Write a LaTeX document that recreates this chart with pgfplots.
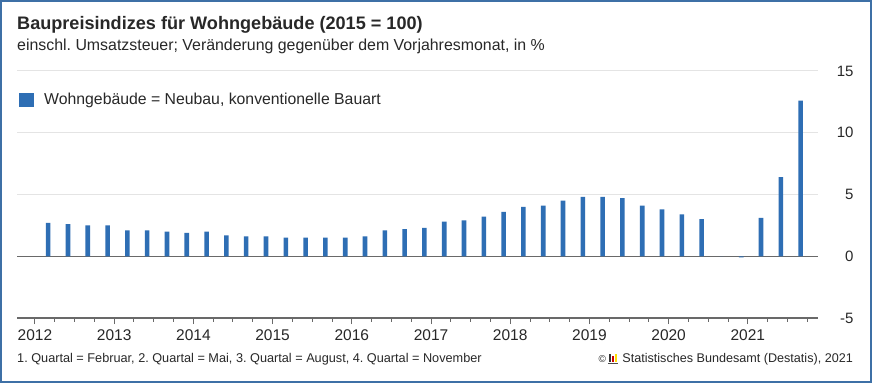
\documentclass[border=0pt]{standalone}
\usepackage{pgfplots}
\pgfplotsset{compat=1.18}
\usepackage{fontspec}
\setmainfont{Liberation Sans}
\frenchspacing
\definecolor{barblue}{RGB}{46,110,180}
\definecolor{frameblue}{RGB}{62,112,166}
\definecolor{txt}{RGB}{40,40,40}
\definecolor{axgray}{RGB}{105,105,105}
\definecolor{gridgray}{RGB}{228,228,228}
\pgfplotstableread{
x y
2012.1667 2.7
2012.4167 2.6
2012.6667 2.5
2012.9167 2.5
2013.1667 2.1
2013.4167 2.1
2013.6667 2.0
2013.9167 1.9
2014.1667 2.0
2014.4167 1.7
2014.6667 1.6
2014.9167 1.6
2015.1667 1.5
2015.4167 1.5
2015.6667 1.5
2015.9167 1.5
2016.1667 1.6
2016.4167 2.1
2016.6667 2.2
2016.9167 2.3
2017.1667 2.8
2017.4167 2.9
2017.6667 3.2
2017.9167 3.6
2018.1667 4.0
2018.4167 4.1
2018.6667 4.5
2018.9167 4.8
2019.1667 4.8
2019.4167 4.7
2019.6667 4.1
2019.9167 3.8
2020.1667 3.4
2020.4167 3.0
2020.6667 0.0
2020.9167 -0.1
2021.1667 3.1
2021.4167 6.4
2021.6667 12.6
}\datatable
\begin{document}
\begin{tikzpicture}[x=1pt,y=1pt]
\path[use as bounding box] (0,0) rectangle (872,383);
\fill[white] (0,0) rectangle (872,383);
\begin{axis}[
  at={(17pt,65pt)}, anchor=south west,
  scale only axis, width=801pt, height=247pt,
  xmin=2011.773, xmax=2021.886, ymin=-5, ymax=15,
  axis line style={draw=none},
  xtick={2012,2013,2014,2015,2016,2017,2018,2019,2020,2021},
  xticklabels={2012,2013,2014,2015,2016,2017,2018,2019,2020,2021},
  minor xtick={2012.25,2012.5,...,2021.8},
  xtick pos=bottom, tick align=outside,
  major tick length=6pt, minor tick length=3.5pt,
  tick style={axgray, line width=1pt},
  ytick={-5,0,5,10,15},
  yticklabels={-5,0,5,10,15},
  ytick style={draw=none},
  yticklabel pos=right,
  yticklabel style={anchor=east, xshift=33pt, font=\fontsize{15}{17}\selectfont, text=txt},
  xticklabel style={font=\fontsize{15.5}{17}\selectfont, text=txt, yshift=-2pt},
  ymajorgrids,
  major grid style={gridgray, line width=1pt},
  extra y ticks={-5,0},
  extra y tick labels={},
  extra y tick style={major grid style={axgray, line width=1.4pt}},
  ybar, bar width=4.6pt,
]
\addplot[fill=barblue, draw=none] table[x=x, y=y] {\datatable};
\end{axis}
\draw[frameblue, line width=2.4pt] (1.2,1.2) rectangle (870.8,381.8);
\node[anchor=base west, inner sep=0, font=\fontsize{18.1}{21}\selectfont\bfseries, text=txt] at (17,353) {Baupreisindizes für Wohngebäude (2015 = 100)};
\node[anchor=base west, inner sep=0, font=\fontsize{15.9}{18}\selectfont, text=txt] at (17,332.3) {einschl. Umsatzsteuer; Veränderung gegenüber dem Vorjahresmonat, in \%};
\fill[barblue] (19,275.7) rectangle (34.3,290.3);
\node[anchor=base west, inner sep=0, font=\fontsize{15.8}{18}\selectfont, text=txt] at (44,278) {Wohngebäude = Neubau, konventionelle Bauart};
\node[anchor=base west, inner sep=0, font=\fontsize{12.7}{15}\selectfont, text=txt] at (17,21) {1. Quartal = Februar, 2. Quartal = Mai, 3. Quartal = August, 4. Quartal = November};
\node[anchor=base east, inner sep=0, font=\fontsize{12.6}{15}\selectfont, text=txt] (src) at (853,21) {Statistisches Bundesamt (Destatis), 2021};
\fill[black!80] ([xshift=-13pt]src.base west) rectangle ++(2pt,8pt);
\fill[red!80!black] ([xshift=-10pt]src.base west) rectangle ++(2pt,6pt);
\fill[yellow!80!orange] ([xshift=-7pt]src.base west) rectangle ++(2pt,8pt);
\draw[black!70, line width=0.6pt] ([xshift=-14pt,yshift=-1pt]src.base west) -- ++(10pt,0);
\node[anchor=base east, inner sep=0, font=\fontsize{10}{12}\selectfont, text=txt] at ([xshift=-16pt]src.base west) {©};
\end{tikzpicture}
\end{document}
